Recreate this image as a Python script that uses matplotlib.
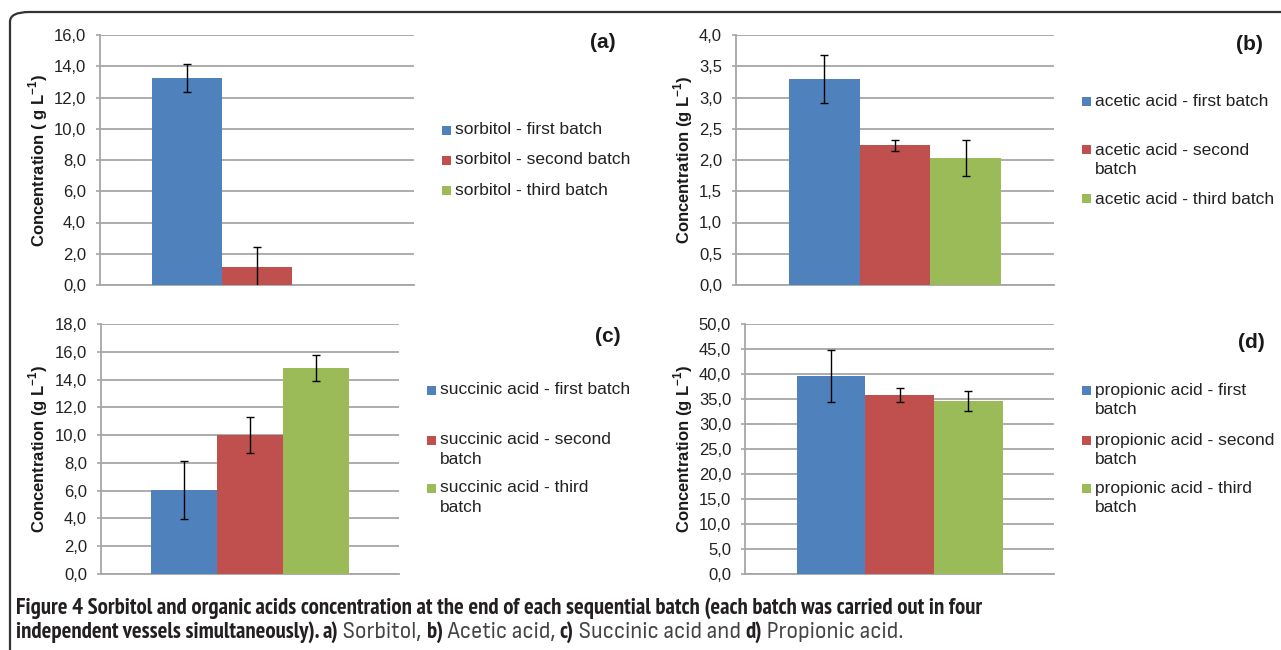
import matplotlib
matplotlib.use('Agg')
import matplotlib.pyplot as plt
from matplotlib import font_manager
from matplotlib.font_manager import FontProperties
from matplotlib.patches import FancyBboxPatch, Rectangle

W, H = 1281, 650

colors = ['#4f81bd', '#c0504d', '#9bbb59']

# values (g/L), error = half of the bar
sorbitol = [13.24, 1.15, 0.0]
sorbitol_err = [0.88, 1.27, 0.0]
acetic = [3.30, 2.235, 2.03]
acetic_err = [0.38, 0.09, 0.285]
succinic = [6.05, 10.0, 14.83]
succinic_err = [2.11, 1.27, 0.94]
propionic = [39.6, 35.9, 34.6]
propionic_err = [5.2, 1.4, 1.95]

sorbitol_labels = ['sorbitol - first batch', 'sorbitol - second batch', 'sorbitol - third batch']
acetic_labels = ['acetic acid - first batch', 'acetic acid - second\nbatch', 'acetic acid - third batch']
succinic_labels = ['succinic acid - first batch', 'succinic acid - second\nbatch', 'succinic acid - third\nbatch']
propionic_labels = ['propionic acid - first\nbatch', 'propionic acid - second\nbatch', 'propionic acid - third\nbatch']

sorbitol_ticks = [0, 2, 4, 6, 8, 10, 12, 14, 16]
acetic_ticks = [0, 0.5, 1, 1.5, 2, 2.5, 3, 3.5, 4]
succinic_ticks = [0, 2, 4, 6, 8, 10, 12, 14, 16, 18]
propionic_ticks = [0, 5, 10, 15, 20, 25, 30, 35, 40, 45, 50]

caption1 = ('Figure 4 Sorbitol and organic acids concentration at the end of each sequential '
            'batch (each batch was carried out in four')
caption2 = [('independent vessels simultaneously). ', True), ('a)', True), (' Sorbitol, ', False),
            ('b)', True), (' Acetic acid, ', False), ('c)', True), (' Succinic acid and ', False),
            ('d)', True), (' Propionic acid.', False)]

plt.rcParams['font.family'] = ['Liberation Sans', 'DejaVu Sans']
plt.rcParams['mathtext.fontset'] = 'custom'
plt.rcParams['mathtext.rm'] = 'Liberation Sans'
plt.rcParams['mathtext.bf'] = 'Liberation Sans:bold'


# a condensed face for the caption if one is installed
def find_face(bold):
    best = None
    for f in font_manager.fontManager.ttflist:
        fn = f.fname.lower()
        if 'oblique' in fn or 'italic' in fn:
            continue
        if ('condensed' in fn or 'narrow' in fn) and (('bold' in fn) == bold):
            if best is None or 'sans' in fn:
                best = f.fname
    if best:
        return FontProperties(fname=best)
    return FontProperties(family='Liberation Sans', weight='bold' if bold else 'normal')


cap_bold = find_face(True)
cap_reg = find_face(False)

fig = plt.figure(figsize=(W / 100, H / 100), dpi=100)


def fx(x):
    return x / W


def fy(y):
    return 1 - y / H


# panel frame
frame = FancyBboxPatch((fx(10), fy(700)), fx(1400), 688 / H,
                       boxstyle='round,pad=0,rounding_size=0.015',
                       transform=fig.transFigure, fill=False, ec='#333333', lw=1.6)
fig.patches.append(frame)

panels = [
    dict(rect=(100, 414, 35, 285), vals=sorbitol, err=sorbitol_err, labels=sorbitol_labels,
         ticks=sorbitol_ticks, ylabel='Concentration ( g L$^{\\mathbf{-1}}$)', ylx=38,
         tag='(a)', tagpos=(603, 42), legx=442, legy=[130, 160, 190]),
    dict(rect=(736, 1054, 35, 285), vals=acetic, err=acetic_err, labels=acetic_labels,
         ticks=acetic_ticks, ylabel='Concentration (g L$^{\\mathbf{-1}}$)', ylx=683,
         tag='(b)', tagpos=(1249, 45), legx=1082, legy=[101, 150, 199]),
    dict(rect=(101, 399, 324, 574), vals=succinic, err=succinic_err, labels=succinic_labels,
         ticks=succinic_ticks, ylabel='Concentration (g L$^{\\mathbf{-1}}$)', ylx=38,
         tag='(c)', tagpos=(608, 336), legx=427, legy=[390, 440, 488]),
    dict(rect=(745, 1054, 324, 574), vals=propionic, err=propionic_err, labels=propionic_labels,
         ticks=propionic_ticks, ylabel='Concentration (g L$^{\\mathbf{-1}}$)', ylx=683,
         tag='(d)', tagpos=(1251, 342), legx=1082, legy=[390, 440, 488]),
]

grid_c = '#a6a6a6'
for p in panels:
    x0, x1, y0, y1 = p['rect']
    ax = fig.add_axes([fx(x0), fy(y1), (x1 - x0) / W, (y1 - y0) / H])
    pos = [-1 / 3, 0, 1 / 3]
    ax.bar(pos, p['vals'], width=1 / 3, color=colors, zorder=3)
    for xp, v, e in zip(pos, p['vals'], p['err']):
        if v > 0:
            ax.errorbar(xp, v, yerr=e, fmt='none', ecolor='black', elinewidth=1,
                        capsize=3, capthick=1, zorder=4)
    ax.set_xlim(-0.75, 0.75)
    ax.set_ylim(p['ticks'][0], p['ticks'][-1])
    ax.set_yticks(p['ticks'])
    ax.set_yticklabels([f'{t:.1f}'.replace('.', ',') for t in p['ticks']])
    ax.set_xticks([])
    ax.grid(axis='y', color=grid_c, lw=1.3, zorder=0)
    for s in ['top', 'right']:
        ax.spines[s].set_visible(False)
    for s in ['left', 'bottom']:
        ax.spines[s].set_color(grid_c)
        ax.spines[s].set_linewidth(1.3)
    ax.tick_params(axis='y', length=3, width=1.2, color=grid_c, pad=7,
                   labelsize=12, labelcolor='#222222')
    ax.set_facecolor('none')

    fig.text(fx(p['ylx']), fy((y0 + y1) / 2), p['ylabel'], rotation=90, ha='center',
             va='center', fontsize=12, fontweight='bold', color='#1a1a1a')
    fig.text(fx(p['tagpos'][0]), fy(p['tagpos'][1]), p['tag'], ha='center', va='center',
             fontsize=15, fontweight='bold', color='#1a1a1a')

    for lab, c, ly in zip(p['labels'], colors, p['legy']):
        fig.patches.append(Rectangle((fx(p['legx']), fy(ly + 4.5)), 9 / W, 9 / H,
                                     transform=fig.transFigure, fc=c, ec='none'))
        for i, line in enumerate(lab.split('\n')):
            fig.text(fx(p['legx'] + 13), fy(ly + 20 * i), line, ha='left', va='center',
                     fontsize=12.5, color='#222222')

# caption, sized so the first line spans the same width as in the figure
r = fig.canvas.get_renderer()
t = fig.text(fx(16), fy(614), caption1, fontproperties=cap_bold, color='#231f20', va='baseline')
t.set_fontsize(14)
w = t.get_window_extent(r).width
size = min(16.5, 14 * 972 / w)
t.set_fontsize(size)

x = 16
for txt, bold in caption2:
    tt = fig.text(fx(x), fy(638), txt, fontproperties=cap_bold if bold else cap_reg,
                  color='#231f20' if bold else '#444444', va='baseline')
    tt.set_fontsize(size)
    x += tt.get_window_extent(r).width

fig.savefig('out.png', dpi=100)
